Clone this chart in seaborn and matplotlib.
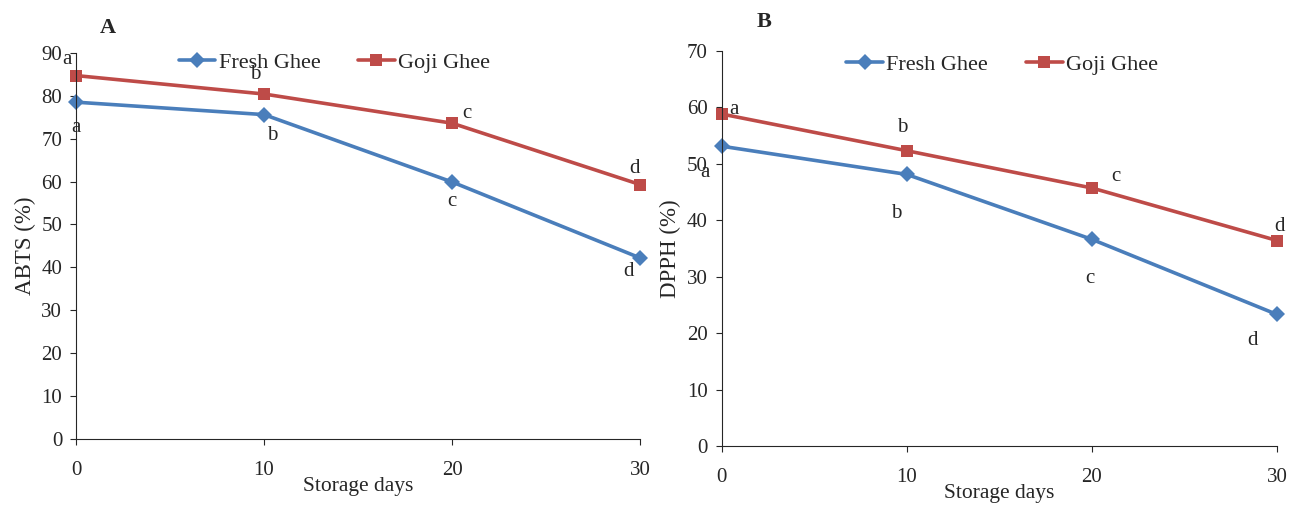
import pandas as pd
import matplotlib.pyplot as plt
import seaborn as sns

# storage days and antioxidant activity
days = [0, 10, 20, 30]
abts_fresh = [78.5, 75.6, 59.9, 42.2]
abts_goji = [84.7, 80.4, 73.6, 59.3]
dpph_fresh = [53.1, 48.1, 36.6, 23.3]
dpph_goji = [58.8, 52.3, 45.7, 36.4]

# significance letters
abts_fresh_letters = ['a', 'b', 'c', 'd']
abts_goji_letters = ['a', 'b', 'c', 'd']
dpph_fresh_letters = ['a', 'b', 'c', 'd']
dpph_goji_letters = ['a', 'b', 'c', 'd']

sns.set_style('ticks')
plt.rcParams['font.family'] = ['Liberation Serif', 'DejaVu Serif']

BLUE = '#4a7ebb'
RED = '#be4b48'

fig = plt.figure(figsize=(12.89, 5.08), dpi=100)
ax_a = fig.add_axes([0.059, 0.136, 0.4375, 0.760])
ax_b = fig.add_axes([0.560, 0.122, 0.4307, 0.778])


def draw_panel(ax, fresh, goji, fresh_lab, goji_lab, fresh_off, goji_off, ymax, ylabel, leg_x, leg_y):
    df = pd.DataFrame({'day': days * 2,
                       'value': fresh + goji,
                       'group': ['Fresh Ghee'] * 4 + ['Goji Ghee'] * 4})
    sns.lineplot(data=df, x='day', y='value', hue='group', style='group',
                 palette=[BLUE, RED], markers=['D', 's'], dashes=False,
                 markersize=8, markeredgewidth=0, linewidth=2.6, ax=ax,
                 clip_on=False)
    # letters sit at an offset (in points) from their marker
    for x, y, t, off in zip(days, fresh, fresh_lab, fresh_off):
        ax.annotate(t, (x, y), xytext=off, textcoords='offset points',
                    ha='center', va='center', fontsize=15)
    for x, y, t, off in zip(days, goji, goji_lab, goji_off):
        ax.annotate(t, (x, y), xytext=off, textcoords='offset points',
                    ha='center', va='center', fontsize=15)
    ax.set_xlim(0, 30)
    ax.set_ylim(0, ymax)
    ax.set_xticks(days)
    ax.set_yticks(range(0, ymax + 1, 10))
    ax.tick_params(axis='x', pad=12, labelsize=15, length=4)
    ax.tick_params(axis='y', labelsize=15, length=4, pad=6)
    ax.set_xlabel('Storage days', fontsize=15.5, labelpad=-2)
    ax.set_ylabel(ylabel, fontsize=16.5, labelpad=4)
    sns.despine(ax=ax)
    ax.legend(loc='center', bbox_to_anchor=(leg_x, leg_y), ncol=2, frameon=False,
              fontsize=16, handlelength=1.65, handletextpad=0.15, columnspacing=1.7)


draw_panel(ax_a, abts_fresh, abts_goji, abts_fresh_letters, abts_goji_letters,
           [(0, -18), (6, -15), (0, -14), (-8, -10)],
           [(-6.5, 11.5), (-6, 14), (11, 7), (-4, 11.5)],
           90, 'ABTS (%)', 0.458, 0.975)
draw_panel(ax_b, dpph_fresh, dpph_goji, dpph_fresh_letters, dpph_goji_letters,
           [(-12, -19), (-8, -28), (-1.5, -28), (-18, -19)],
           [(9, 3.5), (-3.5, 17), (17, 8.5), (2, 10)],
           70, 'DPPH (%)', 0.505, 0.965)

fig.text(0.084, 0.944, 'A', fontsize=16, fontweight='bold', ha='center', va='center')
fig.text(0.593, 0.956, 'B', fontsize=16, fontweight='bold', ha='center', va='center')

fig.savefig('out.png', dpi=100)
